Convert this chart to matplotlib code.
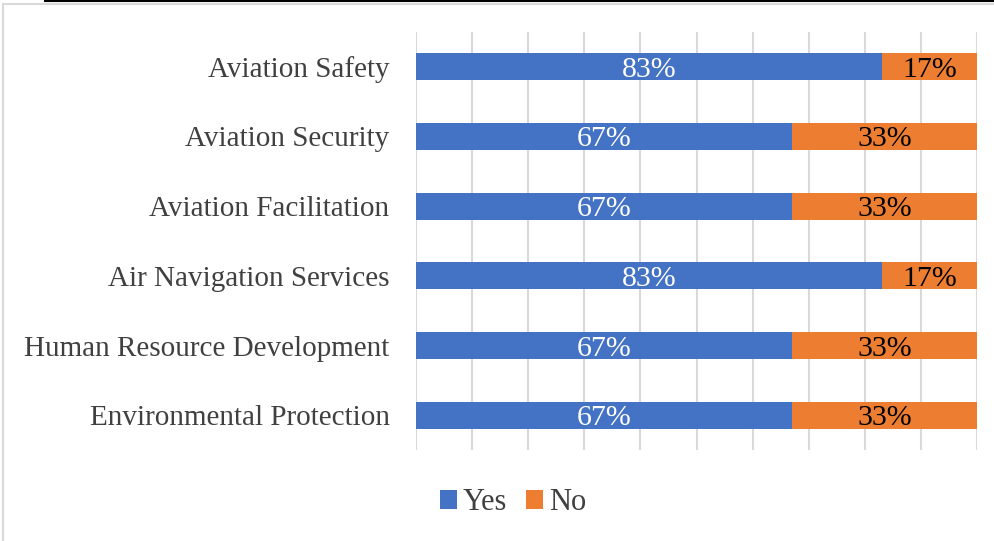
import matplotlib.pyplot as plt
from matplotlib.patches import Rectangle
from matplotlib.lines import Line2D

categories = ["Aviation Safety", "Aviation Security", "Aviation Facilitation",
              "Air Navigation Services", "Human Resource Development",
              "Environmental Protection"]
yes_vals = [83, 67, 67, 83, 67, 67]
no_vals = [17, 33, 33, 17, 33, 33]

blue = "#4472C4"
orange = "#ED7D31"
plt.rcParams['font.family'] = ['Liberation Serif', 'DejaVu Serif']

fig = plt.figure(figsize=(9.94, 5.41), dpi=100)
ax = fig.add_axes([416 / 994, 1 - 450 / 541, 561 / 994, 418 / 541])

# chart border and the cut-off rule above it
fig.add_artist(Rectangle((3 / 994, -0.01), 1.0, 1 - 4 / 541 + 0.01, transform=fig.transFigure,
                         fill=False, edgecolor="#D9D9D9", linewidth=1.5))
fig.add_artist(Line2D([45 / 994, 1.0], [1 - 1 / 541, 1 - 1 / 541], transform=fig.transFigure,
                      color="black", linewidth=1.5))

y = list(range(len(categories)))[::-1]
h = 0.39
ax.barh(y, yes_vals, height=h, color=blue, label="Yes", zorder=2)
ax.barh(y, no_vals, left=yes_vals, height=h, color=orange, label="No", zorder=2)

for yi, a, b in zip(y, yes_vals, no_vals):
    ax.text(a / 2, yi, f"{a}%", ha="center", va="center_baseline", color="white",
            fontsize=21.5, zorder=3)
    ax.text(a + b / 2, yi, f"{b}%", ha="center", va="center_baseline", color="black",
            fontsize=21.5, zorder=3)

ax.set_xlim(0, 100)
ax.set_ylim(-0.5, 5.5)
ax.set_xticks(range(0, 101, 10))
ax.set_xticklabels([])
ax.xaxis.grid(True, color="#D9D9D9", linewidth=1.5, zorder=0)
ax.tick_params(axis="x", length=0)
ax.tick_params(axis="y", length=0, pad=19, labelsize=21, labelcolor="#404040")
ax.set_yticks(y)
ax.set_yticklabels(categories)
for s in ax.spines.values():
    s.set_visible(False)

fig.legend(loc="center", bbox_to_anchor=(513 / 994, 1 - 503 / 541), ncol=2, frameon=False,
           fontsize=22, handlelength=0.55, handleheight=0.55, handletextpad=0.2,
           columnspacing=0.6, labelcolor="#404040")

fig.savefig("out.png", dpi=100)
